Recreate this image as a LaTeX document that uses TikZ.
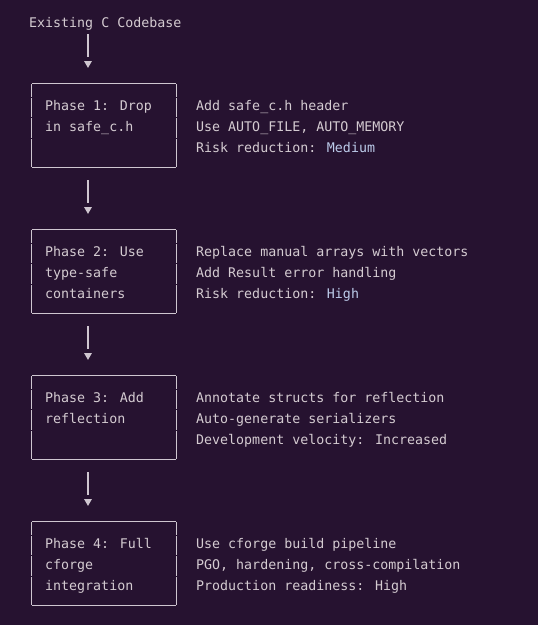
\documentclass[tikz,border=0pt]{standalone}
\usepackage{fontspec}
\usepackage{tikz}
\usetikzlibrary{shapes.geometric,positioning}
\newfontfamily\monofont{DejaVu Sans Mono}
\definecolor{bg}{HTML}{261230}
\definecolor{ink}{HTML}{D4CBD1}
\definecolor{frame}{HTML}{CFC6D0}
\definecolor{hl}{HTML}{BCCBEA}

\begin{document}
\begin{tikzpicture}[x=1pt,y=-1pt,
    font=\monofont\fontsize{13.3}{16}\selectfont,
    phase/.style={minimum width=144pt,minimum height=83pt,inner sep=0pt},
    txt/.style={anchor=base west,inner sep=0pt,text=ink},
    edge/.style={draw=frame,line width=1.1pt},
    side/.style={draw=frame,line width=1.1pt,dash pattern=on 13pt off 1.2pt on 19pt off 1.2pt on 20pt off 1.2pt on 40pt},
    tip/.style={regular polygon,regular polygon sides=3,shape border rotate=180,fill=frame,minimum size=9.2pt,inner sep=0pt},
    stem/.style={draw=frame,line width=1.1pt}
]
    \path[use as bounding box,fill=bg] (0,0) rectangle (538,625);

    % Start
    \node[txt] (start) at (29,27) {Existing C Codebase};

    % Phase boxes
    \foreach \i/\y in {1/125.5,2/271.5,3/417.5,4/563.5} {
        \node[phase] (b\i) at (104,\y) {};
        \draw[edge] (b\i.north west) -- (b\i.north east);
        \draw[edge] (b\i.south west) -- (b\i.south east);
        \draw[side] (b\i.north west) -- (b\i.south west);
        \draw[side] (b\i.north east) -- (b\i.south east);
    }

    % Phase 1
    \node[txt] (p1a) at (45,110) {Phase 1: Drop};
    \node[txt] (p1b) at (45,131) {in safe\_c.h};
    \node[txt] (n1a) at (196,110) {Add safe\_c.h header};
    \node[txt] (n1b) at (196,131) {Use AUTO\_FILE, AUTO\_MEMORY};
    \node[txt] (n1c) at (196,152) {Risk reduction: \textcolor{hl}{Medium}};

    % Phase 2
    \node[txt] (p2a) at (45,256) {Phase 2: Use};
    \node[txt] (p2b) at (45,277) {type-safe};
    \node[txt] (p2c) at (45,298) {containers};
    \node[txt] (n2a) at (196,256) {Replace manual arrays with vectors};
    \node[txt] (n2b) at (196,277) {Add Result error handling};
    \node[txt] (n2c) at (196,298) {Risk reduction: \textcolor{hl}{High}};

    % Phase 3
    \node[txt] (p3a) at (45,402) {Phase 3: Add};
    \node[txt] (p3b) at (45,423) {reflection};
    \node[txt] (n3a) at (196,402) {Annotate structs for reflection};
    \node[txt] (n3b) at (196,423) {Auto-generate serializers};
    \node[txt] (n3c) at (196,444) {Development velocity: Increased};

    % Phase 4
    \node[txt] (p4a) at (45,548) {Phase 4: Full};
    \node[txt] (p4b) at (45,569) {cforge};
    \node[txt] (p4c) at (45,590) {integration};
    \node[txt] (n4a) at (196,548) {Use cforge build pipeline};
    \node[txt] (n4b) at (196,569) {PGO, hardening, cross-compilation};
    \node[txt] (n4c) at (196,590) {Production readiness: High};

    % Arrows
    \node[tip] (t1) at (88,63.3) {};
    \draw[stem,shorten <=4pt,shorten >=3.7pt] (start.south -| t1) -- (t1.north);
    \foreach \a/\b/\y in {1/2/209.3,2/3/355.3,3/4/501.3} {
        \node[tip] (t\b) at (88,\y) {};
        \draw[stem,shorten <=13pt,shorten >=3.7pt] (b\a.south -| t\b) -- (t\b.north);
    }
\end{tikzpicture}
\end{document}
